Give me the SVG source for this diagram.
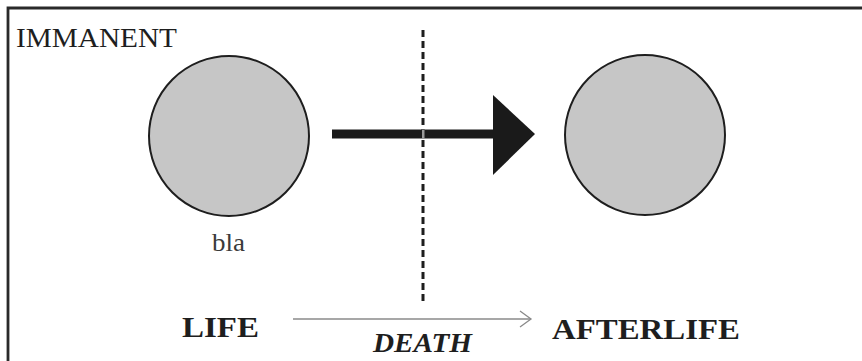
<svg xmlns="http://www.w3.org/2000/svg" width="862" height="361" viewBox="0 0 862 361">
  <style>
    .frame { stroke: #2a2a2a; stroke-width: 2.8; fill: none; }
    .state { fill: #c6c6c6; stroke: #1e1e1e; stroke-width: 2; }
    .serif { font-family: "Liberation Serif", "Times New Roman", serif; fill: #1e1e1e; }
    .label { font-size: 28px; }
    .small { font-size: 25px; fill: #3a3a3a; }
    .big { font-size: 30px; font-weight: bold; }
    .death { font-size: 28px; font-weight: bold; font-style: italic; }
  </style>
  <defs>
    <marker id="open-arrow" markerWidth="14" markerHeight="18" refX="12" refY="9" orient="auto" markerUnits="userSpaceOnUse">
      <path d="M1,1 L12,9 L1,17" fill="none" stroke="#8a8a8a" stroke-width="1.3"/>
    </marker>
  </defs>

  <rect x="0" y="0" width="862" height="361" fill="#ffffff"/>

  <!-- frame: top and left edges -->
  <path class="frame" d="M8,361 L8,8 L862,8"/>

  <text class="serif label" x="16" y="47" textLength="161" lengthAdjust="spacingAndGlyphs">IMMANENT</text>

  <!-- connectors -->
  <g id="connectors">
    <line x1="423" y1="30" x2="423" y2="302" stroke="#1e1e1e" stroke-width="3" stroke-dasharray="7,4"/>
    <rect x="332" y="129.5" width="163" height="9" fill="#1a1a1a"/>
    <rect x="422" y="129.5" width="2.5" height="9" fill="#9a9a9a"/>
    <polygon points="493,95 535,134 493,175" fill="#1a1a1a"/>
    <line x1="293" y1="319" x2="531" y2="319" stroke="#8a8a8a" stroke-width="1.3" marker-end="url(#open-arrow)"/>
  </g>

  <g id="life-node">
    <circle class="state" cx="229" cy="136" r="80"/>
    <text class="serif small" x="212" y="251" textLength="33" lengthAdjust="spacingAndGlyphs">bla</text>
  </g>

  <g id="afterlife-node">
    <circle class="state" cx="645" cy="135" r="80"/>
  </g>

  <g id="labels">
    <text class="serif big" x="182" y="337" textLength="77" lengthAdjust="spacingAndGlyphs">LIFE</text>
    <text class="serif death" x="373" y="352" textLength="99" lengthAdjust="spacingAndGlyphs">DEATH</text>
    <text class="serif big" x="552" y="339" textLength="188" lengthAdjust="spacingAndGlyphs">AFTERLIFE</text>
  </g>
</svg>
